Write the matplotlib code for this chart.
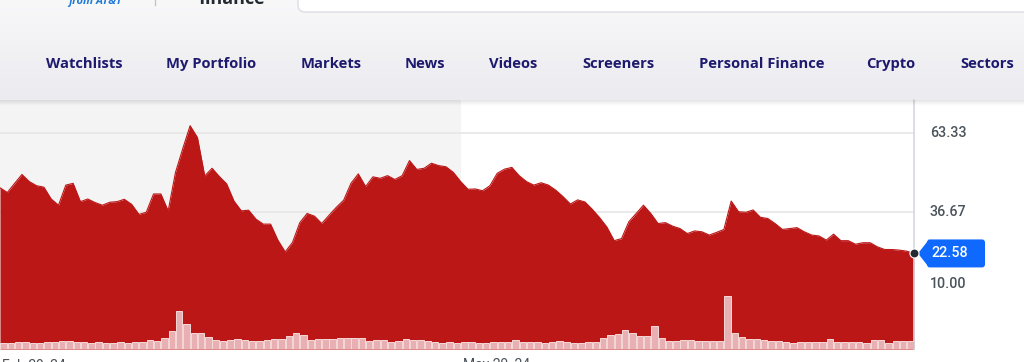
import numpy as np
import matplotlib.pyplot as plt
from matplotlib.patches import FancyBboxPatch, Polygon

W, H = 1024, 362

# daily close, Feb 29 '24 onward
price = [44.8, 43.2, 46.3, 49.3, 46.9, 45.5, 45.0, 41.0, 38.9, 45.7, 46.3, 40.1, 41.0, 39.8,
         38.9, 39.9, 40.1, 40.9, 39.2, 35.8, 36.5, 42.7,
         42.7, 37.0, 50.0, 58.1, 65.8, 61.8, 48.8, 51.4, 48.6, 46.1, 40.3, 37.0, 37.2, 34.2,
         32.5, 32.5, 27.1, 23.1, 26.3, 33.0,
         36.1, 35.2, 32.7, 35.5, 38.2, 40.6, 46.3, 49.5, 45.2, 48.5, 48.0, 48.9, 47.6, 48.9,
         54.0, 51.0, 51.4, 53.1, 52.3, 51.9, 50.0,
         46.9, 44.3, 44.4, 43.8, 45.5, 49.7, 51.1, 51.7, 48.9, 46.9, 45.7, 46.5, 45.7, 44.0,
         41.8, 39.3, 40.7, 40.0, 37.5, 34.7, 31.5, 26.9, 27.6,
         33.3, 36.1, 38.9, 36.1, 32.7, 33.0, 31.8, 31.0, 29.3, 30.2, 29.9, 28.8, 29.7, 30.7,
         40.3, 36.7, 36.5, 37.3,
         34.8, 34.4, 32.7, 30.7, 31.0, 31.3, 29.9, 28.8, 28.5, 27.1, 29.1, 26.9, 26.9, 25.7,
         26.2, 26.2, 24.8, 23.9, 23.9, 23.7, 23.35, 22.58]

# daily volume (relative units)
volume = [6.3, 6.3, 7, 7, 6.3, 6.3, 7.3, 7, 8, 7.7, 7, 6.7, 6.3, 6.7, 6.3, 6.3, 6.7, 6.3, 6.7, 6.7,
          8.7, 7.7, 11.3, 18.3, 38, 24.7, 15.7, 16, 12, 9, 8.3, 9, 10, 8.7, 8.3, 8.3, 9, 9.7, 10,
          13.3, 16, 14,
          9, 9.7, 10, 10, 10.7, 11.3, 11.3, 11.3, 8, 8.7, 8.7, 7, 7.7, 9.7, 9, 9, 7.7, 7, 6.3, 7,
          6.3, 7.3, 6.7, 6, 6.3, 7, 7, 6.7, 8.7, 6.7, 6.7, 6.7, 6, 6.7, 8.3, 7.3, 6.3, 6.3, 7.3,
          7.5, 11.3,
          13.7, 14.7, 19, 15.7, 13, 13, 22.7, 11.3, 8, 7.7, 9.3, 9, 7.7, 7.7, 7.7, 8, 53, 15.7,
          12.3, 10.3,
          10, 9, 8, 8, 7.3, 6.3, 7.3, 7.3, 6.7, 7.3, 9.7, 7.3, 6.7, 6.7, 6.7, 6, 8.7, 8.7, 6.3,
          8, 7.7, 7.7]

y_ticks = [63.33, 36.67, 10.00]
date_labels = ['Feb 29, 24', 'May 29, 24']
date_idx = [0, 63]
nav_items = ['Watchlists', 'My Portfolio', 'Markets', 'News', 'Videos', 'Screeners',
             'Personal Finance', 'Crypto', 'Sectors']
nav_x = [46, 166, 301, 405, 489, 582, 699, 866, 960]

RED = '#bb1717'
NAVY = '#1d1a6e'
GREY_TXT = '#4b535b'

fig = plt.figure(figsize=(W / 100, H / 100), dpi=100)
fig.patch.set_facecolor('white')

# background layer in pixel coords
bg = fig.add_axes([0, 0, 1, 1], zorder=0)
bg.set_xlim(0, W)
bg.set_ylim(H, 0)
bg.axis('off')

# nav bar gradient
top_c = np.array([248, 248, 249]) / 255
bot_c = np.array([235, 235, 240]) / 255
t = np.linspace(0, 1, 100)[:, None, None]
grad = top_c * (1 - t) + bot_c * t
bg.imshow(grad, extent=[0, W, 100, 0], aspect='auto', zorder=0)

# header bits (cut off at the top, as in the page)
bg.add_patch(FancyBboxPatch((298, -30), 760, 42, boxstyle='round,pad=0,rounding_size=7',
                            fc='white', ec='#dadde3', lw=1, zorder=1))
bg.plot([155, 155], [0, 5], color='#c4c4c8', lw=1, zorder=1)
bg.text(68, 4, 'from AT&T', color='#1f7ad9', fontsize=8, style='italic', weight='bold',
        family='Open Sans', va='baseline', zorder=2)
bg.text(199, 4, 'finance', color='#232a31', fontsize=13, weight='bold',
        family='Open Sans', va='baseline', zorder=2)

for label, xx in zip(nav_items, nav_x):
    bg.text(xx, 68, label, color=NAVY, fontsize=10.6, weight='bold', family='Open Sans',
            va='baseline', ha='left', zorder=2)

# price chart
ax = fig.add_axes([0, (H - 349) / H, 914 / W, 249 / H], zorder=1)
x = np.arange(len(price))
ax.set_xlim(0, len(price) - 1)
ax.set_ylim(-9.76, 74.5)
ax.set_facecolor('white')
ax.axvspan(0, date_idx[1], color='#f4f4f4', lw=0, zorder=0)
for v in y_ticks[:2]:
    ax.axhline(v, color='#e6e6e6', lw=1.2, zorder=1)
ax.fill_between(x, price, -9.76, color=RED, lw=0, zorder=2)
ax.plot(x, price, color=RED, lw=0.8, zorder=2)
ax.set_xticks([])
ax.set_yticks([])
for s in ['top', 'left', 'bottom']:
    ax.spines[s].set_visible(False)
ax.spines['right'].set_color('#d5d8e0')
ax.spines['right'].set_linewidth(1.2)

# volume bars on their own scale
ax2 = ax.twinx()
ax2.bar(np.arange(len(volume)) + 0.5, volume, width=0.88, color='#e8b0b2',
        edgecolor='#f6d9da', lw=0.7, zorder=3)
ax2.set_ylim(0, 249)
ax2.axis('off')

# right axis labels
for v in y_ticks:
    dy = 5 if v == y_ticks[-1] else 0
    ax.annotate(f'{v:.2f}', xy=(1, v), xycoords=('axes fraction', 'data'),
                xytext=(11.5, dy), textcoords='offset points', va='center', ha='left',
                fontsize=10.3, color=GREY_TXT, family='Roboto', weight='medium',
                annotation_clip=False)

# date labels (cut off at bottom)
for lab, i in zip(date_labels, date_idx):
    ax.annotate(lab, xy=(i, 0), xycoords=('data', 'axes fraction'),
                xytext=(1.5, -6.5), textcoords='offset points', va='top', ha='left',
                fontsize=10, color=GREY_TXT, family='Roboto', annotation_clip=False)

# last price marker and badge
ov = fig.add_axes([0, 0, 1, 1], zorder=5)
ov.set_xlim(0, W)
ov.set_ylim(H, 0)
ov.axis('off')
ov.patch.set_visible(False)
px, py = ax.transData.transform((x[-1], price[-1]))
py = H - py
ov.add_patch(FancyBboxPatch((927, py - 14), 58, 28, boxstyle='round,pad=0,rounding_size=3',
                            fc='#0f69ff', ec='none'))
ov.add_patch(Polygon([(px + 4, py), (929, py - 14), (929, py + 14)], closed=True,
                     fc='#0f69ff', ec='none'))
ov.plot(px, py, 'o', ms=6.5, color='#232a31', mec='white', mew=0.8)
ov.text(931, py, f'{price[-1]:.2f}', color='white', fontsize=10.3, family='Roboto',
        weight='medium', va='center', ha='left')

# soft shadow under nav bar
sh = np.linspace(0.10, 0.0, 6)
shadow = np.zeros((6, 1, 4))
shadow[:, 0, 3] = sh
ov.imshow(shadow, extent=[0, W, 106, 100], aspect='auto')
ov.set_xlim(0, W)
ov.set_ylim(H, 0)

fig.savefig('out.png', dpi=100)
